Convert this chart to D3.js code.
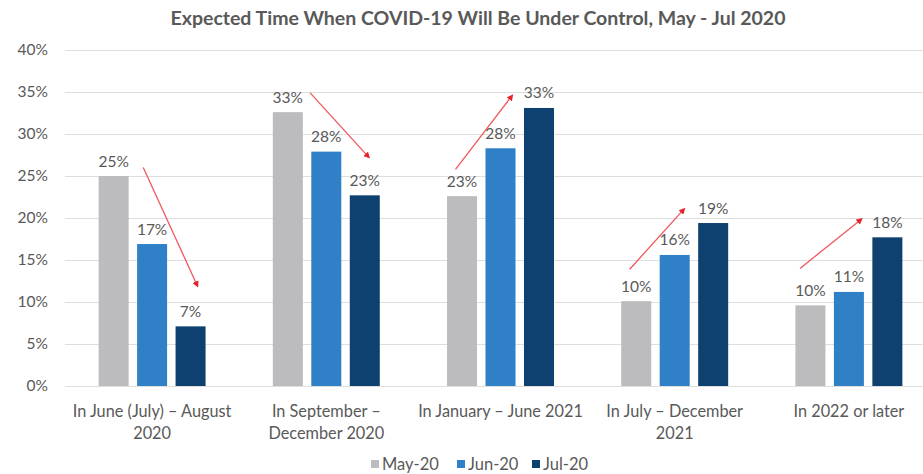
<!DOCTYPE html>
<html>
<head>
<meta charset="utf-8">
<script src="https://cdn.jsdelivr.net/npm/d3@7"></script>
<style>
  html, body { margin: 0; padding: 0; background: #ffffff; }
  svg { display: block; }
</style>
</head>
<body>
<svg id="chart" width="923" height="474"></svg>
<script>
// Survey periods and answer categories
const categories = [
  ["In June (July) – August", "2020"],
  ["In September –", "December 2020"],
  ["In January – June 2021"],
  ["In July – December", "2021"],
  ["In 2022 or later"]
];
const seriesNames = ["May-20", "Jun-20", "Jul-20"];
const seriesColors = ["#bcbcbe", "#2f80c6", "#0e416f"];

// Share of respondents (%) per category for each survey month
const may20 = [25.0, 32.6, 22.6, 10.1, 9.6];
const jun20 = [16.9, 27.9, 28.3, 15.6, 11.2];
const jul20 = [7.1, 22.7, 33.1, 19.4, 17.7];

const yTicks = [0, 5, 10, 15, 20, 25, 30, 35, 40];

// Trend arrows: start/end value (%) and horizontal position in bar steps from group centre
const arrowStartValue = [26.0, 34.9, 25.8, 13.9, 14.0];
const arrowEndValue   = [12.0, 27.3, 34.5, 21.0, 19.8];
const arrowStartPos   = [-0.23, -0.42, -1.17, -1.17, -1.27];
const arrowEndPos     = [1.17, 1.09, 0.29, 0.23, 0.31];

const title = "Expected Time When COVID-19 Will Be Under Control, May - Jul 2020";

const font = "Lato, 'Open Sans', sans-serif";
const textColor = "#595959";

const svg = d3.select("#chart");
const W = 923, H = 474;
const plot = { left: 65, right: 936, top: 50, bottom: 386 };

const catIdx = d3.range(categories.length);
const x0 = d3.scaleBand().domain(catIdx).range([plot.left, plot.right]).paddingInner(0).paddingOuter(0);
const x1 = d3.scaleBand().domain(seriesNames).range([0, x0.bandwidth()])
  .paddingInner(0.22).paddingOuter(0.874);
const y = d3.scaleLinear().domain([0, 40]).range([plot.bottom, plot.top]);

// Title
svg.append("text")
  .attr("x", 478).attr("y", 25)
  .attr("text-anchor", "middle")
  .attr("font-family", font)
  .attr("font-weight", "bold")
  .attr("font-size", 19.5)
  .attr("fill", textColor)
  .text(title);

// Gridlines + y labels
const yAxis = d3.axisLeft(y).tickValues(yTicks)
  .tickSize(-(W - plot.left))
  .tickFormat(d => d + "%");
const gy = svg.append("g")
  .attr("transform", `translate(${plot.left},0)`)
  .call(yAxis);
gy.select(".domain").remove();
gy.selectAll(".tick line").attr("stroke", "#dedede").attr("stroke-width", 1.2);
gy.selectAll(".tick text")
  .attr("x", -17)
  .attr("font-family", font)
  .attr("font-size", 15.5)
  .attr("fill", textColor);

// Bars
const seriesValues = [may20, jun20, jul20];
const rows = catIdx.map(i => seriesNames.map((s, k) => ({ cat: i, series: s, k, value: seriesValues[k][i] })));

const groups = svg.append("g").selectAll("g")
  .data(rows).join("g")
  .attr("transform", (d, i) => `translate(${x0(i)},0)`);

groups.selectAll("rect")
  .data(d => d).join("rect")
  .attr("x", d => x1(d.series))
  .attr("width", x1.bandwidth())
  .attr("y", d => y(d.value))
  .attr("height", d => y(0) - y(d.value))
  .attr("fill", d => seriesColors[d.k]);

// Value labels
const fmt = d3.format(".0f");
groups.selectAll("text.val")
  .data(d => d).join("text")
  .attr("class", "val")
  .attr("x", d => x1(d.series) + x1.bandwidth() / 2)
  .attr("y", d => y(d.value) - 9.5)
  .attr("text-anchor", "middle")
  .attr("font-family", font)
  .attr("font-size", 15.5)
  .attr("fill", textColor)
  .text(d => fmt(d.value) + "%");

// Trend arrows
const defs = svg.append("defs");
defs.append("marker")
  .attr("id", "arrowhead")
  .attr("viewBox", "0 0 10 10")
  .attr("refX", 6).attr("refY", 5)
  .attr("markerWidth", 5).attr("markerHeight", 5)
  .attr("orient", "auto")
  .append("path")
  .attr("d", "M0,0 L10,5 L0,10 Z")
  .attr("fill", "#e8222a");

const step = x1.step();
svg.append("g").selectAll("line")
  .data(catIdx).join("line")
  .attr("x1", i => x0(i) + x0.bandwidth() / 2 + arrowStartPos[i] * step)
  .attr("y1", i => y(arrowStartValue[i]))
  .attr("x2", i => x0(i) + x0.bandwidth() / 2 + arrowEndPos[i] * step)
  .attr("y2", i => y(arrowEndValue[i]))
  .attr("stroke", "#f0585e")
  .attr("stroke-width", 1.3)
  .attr("marker-end", "url(#arrowhead)");

// Category labels
const catG = svg.append("g");
catIdx.forEach(i => {
  const t = catG.append("text")
    .attr("x", x0(i) + x0.bandwidth() / 2)
    .attr("y", 417)
    .attr("text-anchor", "middle")
    .attr("font-family", font)
    .attr("font-size", 16.3)
    .attr("fill", textColor);
  categories[i].forEach((line, j) => {
    t.append("tspan")
      .attr("x", x0(i) + x0.bandwidth() / 2)
      .attr("dy", j === 0 ? 0 : 22)
      .text(line);
  });
});

// Legend
const legendX = [371, 457, 532];
const lg = svg.append("g");
seriesNames.forEach((s, k) => {
  lg.append("rect")
    .attr("x", legendX[k]).attr("y", 460)
    .attr("width", 8).attr("height", 8)
    .attr("fill", seriesColors[k]);
  lg.append("text")
    .attr("x", legendX[k] + 11).attr("y", 470)
    .attr("font-family", font)
    .attr("font-size", 16.5)
    .attr("fill", textColor)
    .text(s);
});
</script>
</body>
</html>
